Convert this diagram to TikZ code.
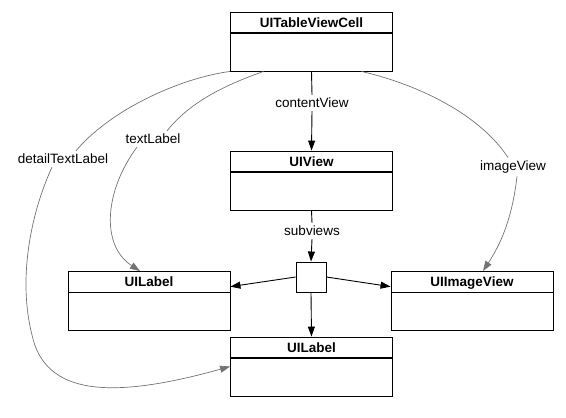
\documentclass[tikz,border=0pt]{standalone}
\usepackage{fontspec}
\setmainfont{Liberation Sans}
\usetikzlibrary{positioning,arrows.meta}

\begin{document}
\begin{tikzpicture}[x=1pt, y=-1pt,
    classbox/.style={draw, line width=0.9pt, minimum width=162pt, minimum height=59pt, inner sep=0pt,
        text height=15pt, text depth=44pt, font=\fontsize{13.5}{16}\selectfont\bfseries,
        path picture={\draw[line width=1.8pt] ([yshift=-21pt]path picture bounding box.north west) -- ([yshift=-21pt]path picture bounding box.north east);}},
    hubbox/.style={draw, line width=0.9pt, minimum size=30pt, inner sep=0pt},
    reltext/.style={inner sep=3pt, font=\fontsize{13.5}{16}\selectfont},
    blackline/.style={line width=0.9pt},
    blackarrow/.style={line width=0.9pt, -{Triangle[length=10pt,width=7pt]}},
    greyarrow/.style={draw=black!55, line width=0.7pt, -{Triangle[length=10pt,width=7pt,fill=black!55]}}]
    \useasboundingbox (0,0) rectangle (566,418);

    %Nodes
    \node[classbox]         (cell)    at (311.5,41.5)  {UITableViewCell};
    \node[classbox]         (view)    at (311.5,180.5) {UIView};
    \node[hubbox]           (hub)     at (311,277)     {};
    \node[classbox]         (lleft)   at (149,301)     {UILabel};
    \node[classbox]         (ivbox)   at (472,301)     {UIImageView};
    \node[classbox]         (lbottom) at (311.5,366.5) {UILabel};

    \node[reltext]          (cvtext)  at (312,103)     {contentView};
    \node[reltext]          (svtext)  at (312,231)     {subviews};
    \node[reltext]          (tltext)  at (153,139)     {textLabel};
    \node[reltext]          (dtltext) at (63,159)      {detailTextLabel};
    \node[reltext]          (ivtext)  at (513,167)     {imageView};

    %Lines
    \draw[blackline]  (cell.south) -- (cvtext.north);
    \draw[blackarrow] (cvtext.south) -- (view.north);
    \draw[blackline]  (view.south) -- (svtext.north);
    \draw[blackarrow] (svtext.south) -- (hub.north);
    \draw[blackarrow] (hub.west) -- (lleft.10);
    \draw[blackarrow] (hub.east) -- (ivbox.170);
    \draw[blackarrow] (hub.south) -- (lbottom.north);

    \draw[draw=black!55, line width=0.7pt] (cell.south west) .. controls (180,78) and (110,110) .. ([xshift=13pt]dtltext.north);
    \draw[greyarrow] ([xshift=-11pt]dtltext.south) .. controls (30,215) and (18,280) .. (32,335)
                     .. controls (45,395) and (110,400) .. (lbottom.west);
    \draw[draw=black!55, line width=0.7pt] ([xshift=-48pt]cell.south) .. controls (225,85) and (190,102) .. ([xshift=14pt]tltext.north);
    \draw[greyarrow] ([xshift=-16pt]tltext.south) .. controls (105,190) and (100,245) .. ([xshift=-9pt]lleft.north);
    \draw[draw=black!55, line width=0.7pt] ([xshift=50pt]cell.south) .. controls (420,85) and (480,115) .. ([xshift=-5pt]ivtext.north);
    \draw[greyarrow] ([xshift=4pt]ivtext.south) .. controls (512,220) and (500,245) .. ([xshift=11pt]ivbox.north);
\end{tikzpicture}
\end{document}
